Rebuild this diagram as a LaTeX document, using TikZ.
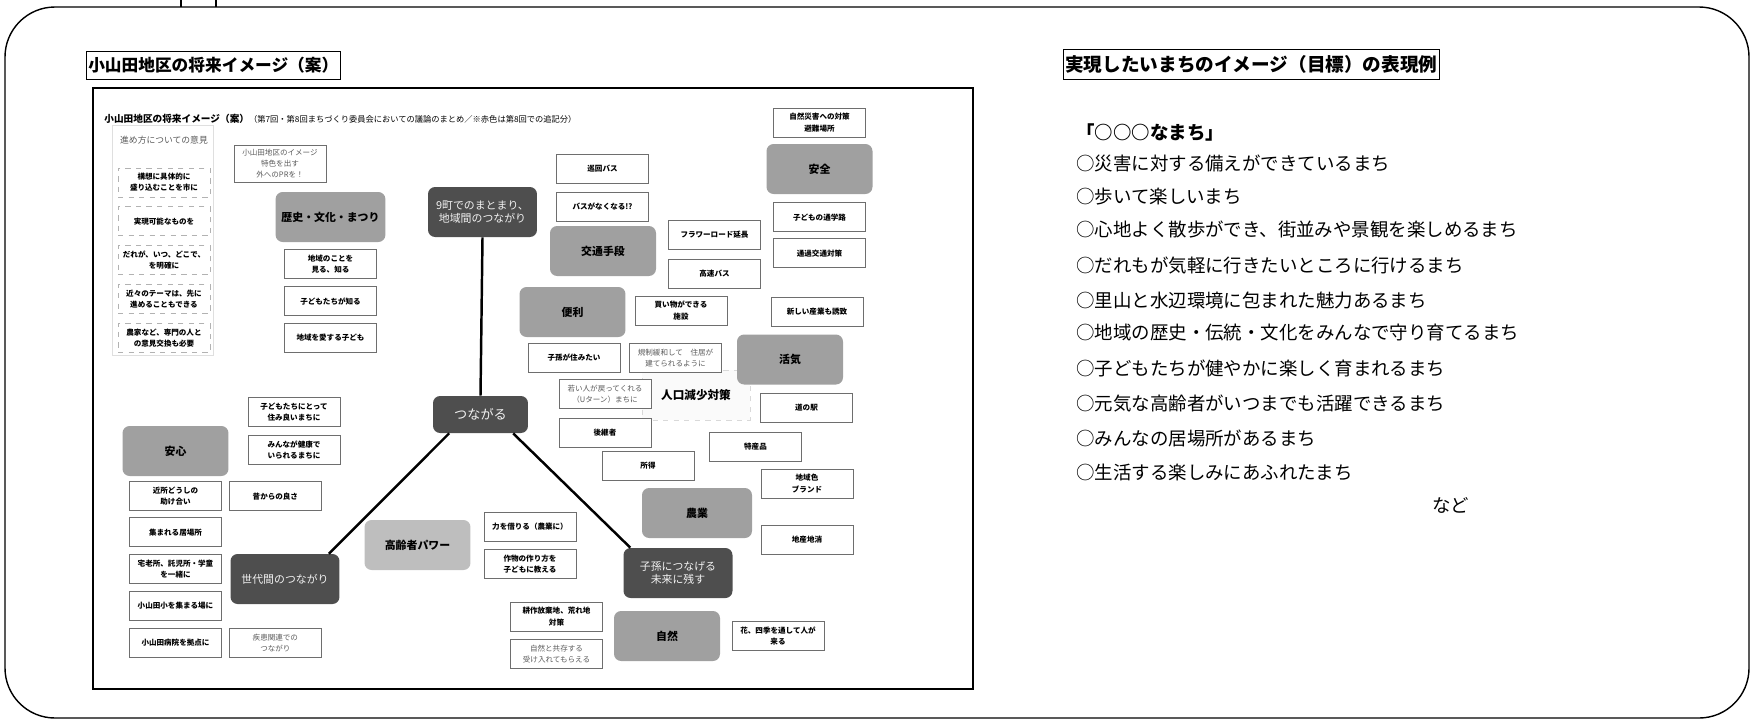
\documentclass[tikz,border=0pt]{standalone}
\usepackage{fontspec}
\setmainfont{Noto Sans CJK JP}
\setsansfont{Noto Sans CJK JP}
\usetikzlibrary{positioning}
\definecolor{colour_theme}{HTML}{A0A0A0}
\definecolor{colour_soft}{HTML}{BEBEBE}
\definecolor{colour_core}{HTML}{4E4E4E}
\definecolor{colour_edge}{HTML}{6E6E6E}
\definecolor{colour_added}{HTML}{5C5C5C}

\begin{document}
\begin{tikzpicture}[
    x=0.02cm, y=-0.02cm,
    font=\sffamily,
    note/.style={rectangle, draw=colour_edge, line width=0.5pt, fill=white,
                 minimum width=1.84cm, minimum height=0.58cm, inner sep=1pt,
                 align=center, font=\sffamily\bfseries\fontsize{4.3}{6.4}\selectfont},
    added/.style={note, text=colour_added, font=\sffamily\fontsize{4.3}{6.4}\selectfont},
    wish/.style={note, dashed, draw=gray!60},
    theme/.style={rectangle, rounded corners=4pt, fill=colour_theme,
                  minimum width=2.12cm, minimum height=1cm, align=center,
                  font=\sffamily\bfseries\fontsize{6.2}{7.5}\selectfont},
    core/.style={rectangle, rounded corners=4pt, fill=colour_core, text=gray!10,
                 minimum width=2.18cm, minimum height=1cm, align=center,
                 font=\sffamily\fontsize{6.2}{7.5}\selectfont},
    goal/.style={anchor=west, inner sep=0pt, font=\sffamily\fontsize{10.5}{12}\selectfont},
    link/.style={line width=1.4pt}
]

% Page and outer frame
\useasboundingbox (0,0) rectangle (1753,724);
\draw[line width=0.8pt, rounded corners=1cm] (5,7) rectangle (1749,718);
\draw[line width=0.8pt] (181,0) -- (181,7) (216,0) -- (216,7);

% Left heading and map frame
\node[draw, line width=0.6pt, anchor=north west, minimum height=0.54cm, inner xsep=1pt,
      font=\sffamily\bfseries\fontsize{9.5}{11}\selectfont] (maptitle) at (86,51) {小山田地区の将来イメージ（案）};
\draw[line width=0.9pt] (93,88) rectangle (973,689);
\node[anchor=west, inner sep=0pt] (mapcaption) at (104,119)
     {{\bfseries\fontsize{5.5}{6}\selectfont 小山田地区の将来イメージ（案）}{\fontsize{4.7}{6}\selectfont （第7回・第8回まちづくり委員会においての議論のまとめ／※赤色は第8回での追記分）}};

% Opinions on how to proceed
\node[draw=gray!25, minimum width=2.02cm, minimum height=4.6cm] (howpanel) at (162.5,240) {};
\node[text=gray!70!black, font=\sffamily\fontsize{5}{6}\selectfont] (howtitle) at (164,140) {進め方についての意見};
\node[wish] (how1) at (164,182.5) {構想に具体的に\\盛り込むことを市に};
\node[wish, below=0.18cm of how1] (how2) {実現可能なものを};
\node[wish, below=0.18cm of how2] (how3) {だれが、いつ、どこで、\\を明確に};
\node[wish, below=0.18cm of how3] (how4) {近々のテーマは、先に\\進めることもできる};
\node[wish, below=0.18cm of how4] (how5) {農家など、専門の人と\\の意見交換も必要};

% History and culture
\node[added, minimum height=0.74cm] (pr) at (280,163.5) {小山田地区のイメージ\\特色を出す\\外へのPRを！};
\node[theme] (rekishi) at (330.5,217) {歴史・文化・まつり};
\node[note, below=0.14cm of rekishi] (miru) {地域のことを\\見る、知る};
\node[note, below=0.14cm of miru] (shiru) {子どもたちが知る};
\node[note, below=0.14cm of shiru] (aisuru) {地域を愛する子ども};

% Core themes
\node[core] (machi) at (482.5,212) {9町でのまとまり、\\地域間のつながり};
\node[core, minimum width=1.9cm, minimum height=0.74cm,
      font=\sffamily\fontsize{7.5}{9}\selectfont] (tsunagaru) at (480.5,414.5) {つながる};
\node[core] (sedai) at (285,579) {世代間のつながり};
\node[core] (mirai) at (678,573) {子孫につなげる\\未来に残す};

% Transport
\node[note] (junkai) at (602.5,169) {巡回バス};
\node[note, below=0.16cm of junkai] (basu) {バスがなくなる!?};
\node[theme] (kotsu) at (603,251) {交通手段};
\node[note] (flower) at (714.5,235) {フラワーロード延長};
\node[note, below=0.18cm of flower] (kousoku) {高速バス};

% Safety
\node[theme] (anzen) at (819.5,169) {安全};
\node[note, above=0.12cm of anzen] (saigai) {自然災害への対策\\避難場所};
\node[note, below=0.16cm of anzen] (tsugaku) {子どもの通学路};
\node[note, below=0.12cm of tsugaku] (tsuka) {通過交通対策};

% Convenience
\node[theme] (benri) at (572.5,312) {便利};
\node[note] (kaimono) at (681,310.5) {買い物ができる\\施設};
\node[note] (sangyo) at (817,311.5) {新しい産業も誘致};

% Population decline
\node[draw=gray!30, dashed, fill=gray!4, minimum width=2.16cm, minimum height=1cm,
      font=\sffamily\bfseries\fontsize{6.6}{8}\selectfont] (jinko) at (696,395) {人口減少対策};
\node[note] (shison) at (574,358) {子孫が住みたい};
\node[added] (kisei) at (675.5,358) {規制緩和して　住居が\\建てられるように};
\node[added] (uturn) at (605,394) {若い人が戻ってくれる\\（Uターン）まちに};
\node[note, below=0.18cm of uturn] (kokei) {後継者};
\node[note] (shotoku) at (648,466) {所得};

% Vitality
\node[theme] (kakki) at (790,359.5) {活気};
\node[note] (michi) at (806.5,408) {道の駅};
\node[note] (tokusan) at (755.5,446.5) {特産品};
\node[note] (brand) at (807,483.5) {地域色\\ブランド};
\node[theme, minimum width=2.2cm] (nogyo) at (697,513) {農業};
\node[note] (chisan) at (807,540) {地産地消};

% Peace of mind
\node[note] (sumiyoi) at (294,412) {子どもたちにとって\\住み良いまちに};
\node[note, below=0.16cm of sumiyoi] (kenko) {みんなが健康で\\いられるまちに};
\node[theme] (anshin) at (175.5,451) {安心};
\node[note, below=0.1cm of anshin] (kinjo) {近所どうしの\\助け合い};
\node[note, right=0.14cm of kinjo] (mukashi) {昔からの良さ};
\node[note, below=0.12cm of kinjo] (ibasho) {集まれる居場所};
\node[note, below=0.14cm of ibasho] (takuro) {宅老所、託児所・学童\\を一緒に};
\node[note, below=0.14cm of takuro] (shogaku) {小山田小を集まる場に};
\node[note, below=0.14cm of shogaku] (byoin) {小山田病院を拠点に};
\node[added, right=0.14cm of byoin] (shikkan) {疾患関連での\\つながり};

% Elderly and nature
\node[theme, fill=colour_soft] (koureisha) at (417.5,545) {高齢者パワー};
\node[note] (chikara) at (530,526.5) {力を借りる（農業に）};
\node[note, below=0.16cm of chikara] (sakumotsu) {作物の作り方を\\子どもに教える};
\node[theme] (shizen) at (667,636) {自然};
\node[note] (kousaku) at (556.5,616.5) {耕作放棄地、荒れ地\\対策};
\node[added, below=0.16cm of kousaku] (kyozon) {自然と共存する\\受け入れてもらえる};
\node[note] (hana) at (778,636) {花、四季を通して人が\\来る};

% Links
\draw[link] (machi.south) -- (tsunagaru.north);
\draw[link] (tsunagaru.211) -- (sedai.30);
\draw[link] (tsunagaru.330) -- (mirai.152);

% Right panel: target images
\node[draw, line width=0.6pt, anchor=north west, minimum height=0.48cm, inner xsep=1pt,
      font=\sffamily\bfseries\fontsize{10.6}{12}\selectfont] (goaltitle) at (1063,49) {実現したいまちのイメージ（目標）の表現例};
\node[goal, font=\sffamily\bfseries\fontsize{10.5}{12}\selectfont] (goalhead) at (1076,132) {「○○○なまち」};
\node[goal] (goal1) at (1076,163) {○災害に対する備えができているまち};
\node[goal] (goal2) at (1076,197) {○歩いて楽しいまち};
\node[goal] (goal3) at (1076,230) {○心地よく散歩ができ、街並みや景観を楽しめるまち};
\node[goal] (goal4) at (1076,265) {○だれもが気軽に行きたいところに行けるまち};
\node[goal] (goal5) at (1076,300) {○里山と水辺環境に包まれた魅力あるまち};
\node[goal] (goal6) at (1076,333) {○地域の歴史・伝統・文化をみんなで守り育てるまち};
\node[goal] (goal7) at (1076,368) {○子どもたちが健やかに楽しく育まれるまち};
\node[goal] (goal8) at (1076,403) {○元気な高齢者がいつまでも活躍できるまち};
\node[goal] (goal9) at (1076,438) {○みんなの居場所があるまち};
\node[goal] (goal10) at (1076,472) {○生活する楽しみにあふれたまち};
\node[goal] (etc) at (1432,505) {など};

\end{tikzpicture}
\end{document}
